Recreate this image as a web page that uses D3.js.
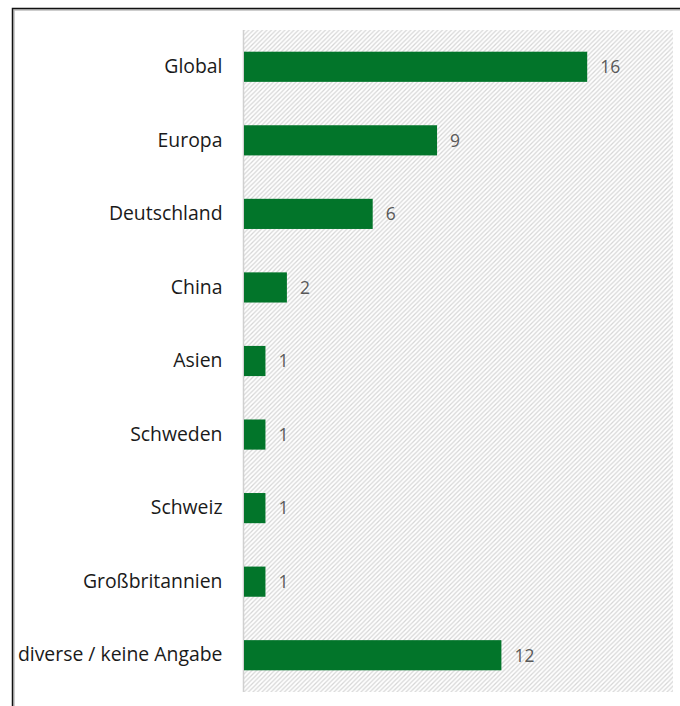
<!DOCTYPE html>
<html>
<head>
<meta charset="utf-8">
<script src="https://cdn.jsdelivr.net/npm/d3@7"></script>
<style>
  html, body { margin: 0; padding: 0; background: #fff; }
  svg { display: block; }
</style>
</head>
<body>
<svg id="chart" width="680" height="706"></svg>
<script>
// Regions and number of entries per region
const categories = ["Global", "Europa", "Deutschland", "China", "Asien", "Schweden", "Schweiz", "Großbritannien", "diverse / keine Angabe"];
const counts = [16, 9, 6, 2, 1, 1, 1, 1, 12];
const xMax = 20;

const svg = d3.select("#chart");
const W = 680, H = 706;
const plot = { left: 243.5, right: 673, top: 30, bottom: 692 };
const font = "'Open Sans', 'Noto Sans', sans-serif";

// Outer frame with a soft shadow line
svg.append("path")
  .attr("d", `M14,${H} V10 H${W}`)
  .attr("fill", "none").attr("stroke", "#bdbdbd").attr("stroke-width", 1.5);
svg.append("path")
  .attr("d", `M12.5,${H} V8.5 H${W}`)
  .attr("fill", "none").attr("stroke", "#111").attr("stroke-width", 1.5);

// Diagonal hatch fill for the plot area
const defs = svg.append("defs");
const pat = defs.append("pattern")
  .attr("id", "hatch")
  .attr("patternUnits", "userSpaceOnUse")
  .attr("width", 4.5).attr("height", 4.5);
pat.append("path")
  .attr("d", "M-1,1 l2,-2 M0,4.5 l4.5,-4.5 M3.5,5.5 l2,-2")
  .attr("stroke", "#d6d6d6").attr("stroke-width", 1.25);

svg.append("rect")
  .attr("x", plot.left).attr("y", plot.top)
  .attr("width", plot.right - plot.left).attr("height", plot.bottom - plot.top)
  .attr("fill", "url(#hatch)");

const x = d3.scaleLinear().domain([0, xMax]).range([plot.left + 0.5, plot.right]);
const y = d3.scaleBand().domain(categories).range([plot.top, plot.bottom]).paddingInner(0.59).paddingOuter(0.295);

// Category axis
const yAxis = svg.append("g")
  .attr("transform", `translate(${plot.left},0)`)
  .call(d3.axisLeft(y).tickSize(0).tickPadding(21));
yAxis.select(".domain")
  .attr("d", `M0,${plot.top}V${plot.bottom}`)
  .attr("stroke", "#d0d0d0").attr("stroke-width", 1.5);
yAxis.selectAll("text")
  .attr("font-family", font)
  .attr("font-size", 19.4)
  .attr("fill", "#1a1a1a");

// Bars
svg.append("g").selectAll("rect")
  .data(categories)
  .join("rect")
  .attr("x", x(0))
  .attr("y", d => y(d))
  .attr("width", (d, i) => x(counts[i]) - x(0))
  .attr("height", y.bandwidth())
  .attr("fill", "#02752a");

// Value labels
svg.append("g").selectAll("text")
  .data(categories)
  .join("text")
  .attr("x", (d, i) => x(counts[i]) + 13)
  .attr("y", d => y(d) + y.bandwidth() / 2)
  .attr("dy", "0.36em")
  .attr("font-family", font)
  .attr("font-size", 17.5)
  .attr("fill", "#595959")
  .text((d, i) => counts[i]);
</script>
</body>
</html>
